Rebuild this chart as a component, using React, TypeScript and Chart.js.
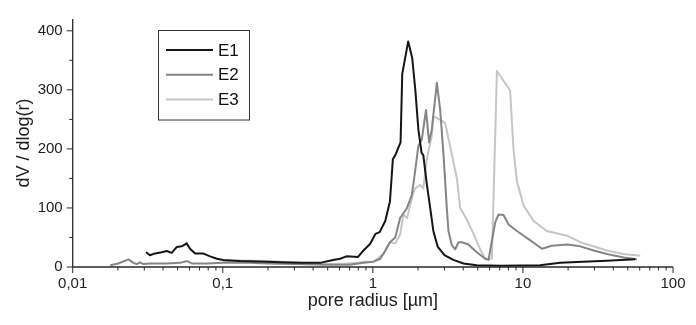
import React, { useEffect, useRef } from "react";
import { Chart, registerables } from "chart.js";

Chart.register(...registerables);

// ---- data (pore radius in µm, dV/dlog(r)) ----
const seriesLabels = ["E1", "E2", "E3"];
const seriesColors = ["#151515", "#858585", "#c6c6c6"];

const e1R = [0.0308, 0.0327, 0.0354, 0.0392, 0.0423, 0.0457, 0.0494, 0.0533, 0.0575, 0.0605, 0.0654, 0.0739, 0.0823, 0.0912, 0.101, 0.13, 0.196, 0.241, 0.328, 0.445, 0.543, 0.605, 0.667, 0.797, 0.866, 0.958, 1.04, 1.11, 1.21, 1.3, 1.36, 1.41, 1.53, 1.57, 1.72, 1.83, 1.92, 2.01, 2.11, 2.17, 2.29, 2.41, 2.53, 2.71, 3.0, 3.44, 4.01, 4.92, 7.1, 13.0, 17.7, 25.1, 36.2, 56];
const e1V = [25, 20, 23, 25, 27, 24, 34, 35, 40, 31, 23, 23, 18, 14, 12, 10, 9, 8, 7, 7, 12, 14, 18, 17, 28, 39, 56, 59, 78, 111, 183, 189, 211, 327, 382, 354, 299, 233, 194, 189, 140, 100, 61, 34, 20, 12, 6, 3, 2, 3, 7, 9, 10.5, 13];

const e2R = [0.0178, 0.0201, 0.0235, 0.0254, 0.0267, 0.0281, 0.0296, 0.0327, 0.0423, 0.0519, 0.058, 0.062, 0.078, 0.1, 0.15, 0.2, 0.3, 0.5, 0.7, 0.865, 1.01, 1.12, 1.18, 1.3, 1.41, 1.52, 1.69, 1.82, 1.91, 2.01, 2.12, 2.26, 2.37, 2.47, 2.67, 2.81, 2.96, 3.11, 3.19, 3.36, 3.54, 3.72, 3.92, 4.34, 4.81, 5.61, 5.9, 6.05, 6.53, 6.88, 7.43, 8.02, 9.12, 11.2, 13.4, 15.6, 19.7, 24.1, 29.6, 36.3, 46.9, 57.5];
const e2V = [3, 6, 13, 7, 5, 8, 5, 6, 6, 7, 10, 6, 6, 7, 7, 6, 5, 4, 4, 7, 9, 14, 23, 42, 50, 83, 100, 122, 161, 205, 216, 266, 211, 233, 312, 266, 189, 100, 61, 37, 30, 42, 42, 38, 27, 14, 12, 28, 75, 89, 88, 72, 61, 45, 31, 36, 38, 35, 28, 22, 16, 13];

const e3R = [0.1, 0.13, 0.2, 0.3, 0.45, 0.6, 0.8, 0.865, 1.01, 1.18, 1.3, 1.41, 1.52, 1.6, 1.69, 1.82, 1.91, 2.07, 2.17, 2.29, 2.47, 2.54, 2.81, 3.03, 3.27, 3.63, 3.82, 4.23, 4.69, 5.19, 5.61, 6.21, 6.71, 8.22, 8.65, 9.12, 10.1, 11.8, 14.4, 19.7, 24.1, 36.3, 46.9, 60.5];
const e3V = [9, 11, 10, 8, 5, 5, 7, 9, 9, 23, 42, 40, 55, 89, 83, 117, 133, 139, 133, 183, 222, 255, 249, 244, 205, 150, 100, 80, 56, 30, 14, 14, 332, 299, 200, 145, 104, 78, 61, 53, 42, 28, 22, 19];

const xTickValues = [0.01, 0.1, 1, 10, 100];
const xTickLabels = ["0,01", "0,1", "1", "10", "100"];
const yTickValues = [0, 100, 200, 300, 400];
const yMinorValues = [50, 150, 250, 350];
const xTitle = "pore radius [µm]";
const yTitle = "dV / dlog(r)";

const FONT = "'Liberation Sans', Arial, Helvetica, sans-serif";
const AXIS_COLOR = "#2a2a2a";

const toPoints = (r: number[], v: number[]) => r.map((x, i) => ({ x, y: v[i] }));

const axesPlugin = {
  id: "axesPlugin",
  afterDatasetsDraw(chart: any) {
    const { ctx, scales } = chart;
    const xs = scales.x;
    const ys = scales.y;
    const x0 = xs.getPixelForValue(0.01);
    const x1 = xs.getPixelForValue(100);
    const y0 = ys.getPixelForValue(0);
    const yTop = ys.getPixelForValue(ys.max);
    ctx.save();
    ctx.strokeStyle = AXIS_COLOR;
    ctx.lineWidth = 1.3;
    ctx.beginPath();
    ctx.moveTo(x0, yTop);
    ctx.lineTo(x0, y0);
    ctx.lineTo(x1, y0);
    ctx.stroke();
    ctx.lineWidth = 1;
    ctx.beginPath();
    yTickValues.forEach((v) => {
      const p = ys.getPixelForValue(v);
      ctx.moveTo(x0 - 6, p);
      ctx.lineTo(x0, p);
    });
    yMinorValues.forEach((v) => {
      const p = ys.getPixelForValue(v);
      ctx.moveTo(x0 - 3.5, p);
      ctx.lineTo(x0, p);
    });
    xTickValues.forEach((v) => {
      const p = xs.getPixelForValue(v);
      ctx.moveTo(p, y0);
      ctx.lineTo(p, y0 + 6);
    });
    for (let d = 0; d < xTickValues.length - 1; d++) {
      for (let k = 2; k <= 9; k++) {
        const p = xs.getPixelForValue(xTickValues[d] * k);
        ctx.moveTo(p, y0);
        ctx.lineTo(p, y0 + 3.5);
      }
    }
    ctx.stroke();
    ctx.restore();
  },
};

const legendPlugin = {
  id: "boxLegend",
  afterDraw(chart: any) {
    const { ctx } = chart;
    const left = 158.5;
    const top = 30.5;
    const w = 91;
    const h = 89.5;
    ctx.save();
    ctx.strokeStyle = "#333";
    ctx.lineWidth = 1;
    ctx.strokeRect(left, top, w, h);
    ctx.font = `17px ${FONT}`;
    ctx.textBaseline = "middle";
    ctx.fillStyle = "#111";
    chart.data.datasets.forEach((ds: any, i: number) => {
      const y = 50 + i * 24.7;
      ctx.strokeStyle = ds.borderColor;
      ctx.lineWidth = 2;
      ctx.beginPath();
      ctx.moveTo(166, y);
      ctx.lineTo(213, y);
      ctx.stroke();
      ctx.fillText(ds.label, 218, y + 1);
    });
    ctx.restore();
  },
};

export default function App() {
  const canvasRef = useRef<HTMLCanvasElement | null>(null);

  useEffect(() => {
    document.body.style.margin = "0";
    const canvas = canvasRef.current;
    if (!canvas) return;
    const chart = new Chart(canvas, {
      type: "line",
      data: {
        datasets: [
          { label: seriesLabels[0], data: toPoints(e1R, e1V), borderColor: seriesColors[0] },
          { label: seriesLabels[1], data: toPoints(e2R, e2V), borderColor: seriesColors[1] },
          { label: seriesLabels[2], data: toPoints(e3R, e3V), borderColor: seriesColors[2] },
        ].map((d) => ({
          ...d,
          borderWidth: 2,
          pointRadius: 0,
          tension: 0,
          fill: false,
          borderJoinStyle: "round" as const,
        })),
      },
      options: {
        responsive: false,
        animation: false,
        events: [],
        layout: { padding: { left: 0, right: 23, top: 13, bottom: 0 } },
        plugins: {
          legend: { display: false },
          tooltip: { enabled: false },
        },
        scales: {
          x: {
            type: "logarithmic",
            min: 0.01,
            max: 100,
            grid: { display: false, drawTicks: false },
            border: { display: false },
            afterBuildTicks: (s: any) => {
              s.ticks = xTickValues.map((value) => ({ value }));
            },
            afterFit: (s: any) => {
              s.height = 58;
            },
            ticks: {
              autoSkip: false,
              maxRotation: 0,
              padding: 8,
              color: "#222",
              font: { family: FONT, size: 15 },
              callback: (v: any) => {
                const i = xTickValues.indexOf(Number(v));
                return i >= 0 ? xTickLabels[i] : "";
              },
            },
            title: {
              display: true,
              text: xTitle,
              color: "#222",
              font: { family: FONT, size: 18 },
              padding: { top: 0, bottom: 13 },
            },
          },
          y: {
            type: "linear",
            min: 0,
            max: 420,
            grid: { display: false, drawTicks: false },
            border: { display: false },
            afterBuildTicks: (s: any) => {
              s.ticks = yTickValues.map((value) => ({ value }));
            },
            afterFit: (s: any) => {
              s.width = 72.7;
            },
            ticks: {
              padding: 10,
              color: "#222",
              font: { family: FONT, size: 15 },
            },
            title: {
              display: true,
              text: yTitle,
              color: "#222",
              font: { family: FONT, size: 18 },
              padding: { top: 13, bottom: 0 },
            },
          },
        },
      },
      plugins: [axesPlugin, legendPlugin],
    });
    return () => chart.destroy();
  }, []);

  return (
    <div style={{ position: "absolute", left: 0, top: 0, width: 696, height: 325, background: "#fff" }}>
      <canvas ref={canvasRef} width={696} height={325} />
    </div>
  );
}
